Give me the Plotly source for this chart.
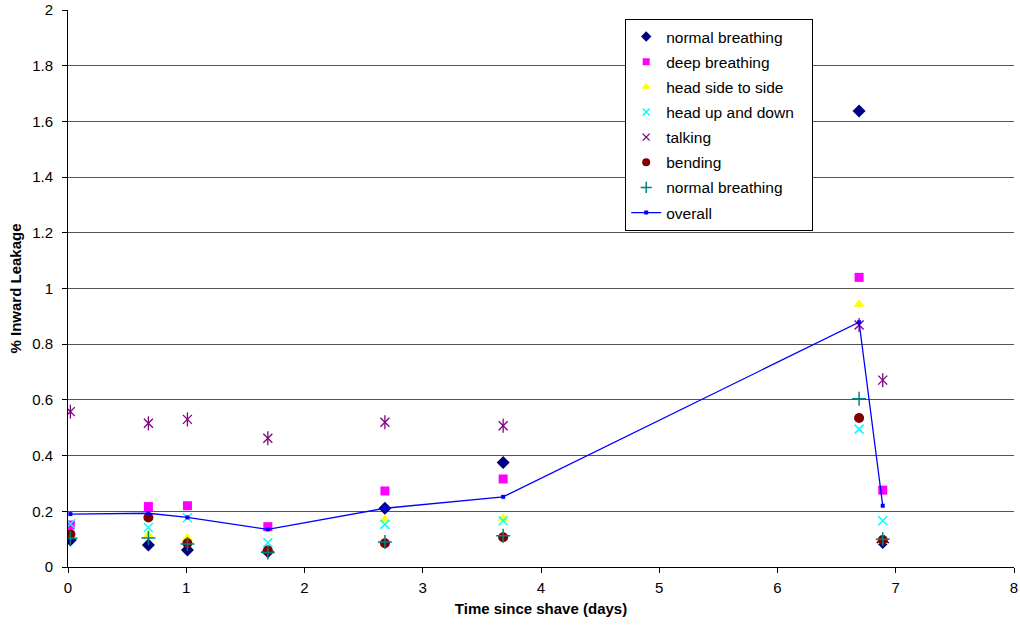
import plotly.graph_objects as go

days = [0.02, 0.68, 1.01, 1.69, 2.68, 3.68, 6.69, 6.89]
normal_breathing = [0.097, 0.079, 0.061, 0.055, 0.211, 0.375, 1.637, 0.088]
deep_breathing = [0.151, 0.217, 0.220, 0.145, 0.273, 0.316, 1.040, 0.276]
head_side = [0.110, 0.115, 0.104, 0.065, 0.171, 0.175, 0.943, 0.092]
head_updown = [0.155, 0.142, 0.177, 0.087, 0.153, 0.166, 0.495, 0.166]
talking = [0.558, 0.516, 0.530, 0.462, 0.520, 0.507, 0.869, 0.671]
bending = [0.118, 0.178, 0.085, 0.059, 0.085, 0.107, 0.535, 0.097]
normal_breathing2 = [0.103, 0.104, 0.083, 0.052, 0.090, 0.112, 0.604, 0.100]
overall = [0.190, 0.193, 0.178, 0.135, 0.211, 0.252, 0.879, 0.220]

fig = go.Figure()

def scat(y, name, symbol, color, size, lw=0, lsize=7, extra=None):
    fig.add_trace(go.Scatter(
        x=days, y=y, name=name, mode="markers",
        marker=dict(symbol=symbol, color=color, size=size,
                    line=dict(color=color, width=lw)),
        showlegend=False, legendgroup=name))
    if extra:
        fig.add_trace(go.Scatter(
            x=days, y=y, name=name, mode="markers",
            marker=dict(symbol=extra, color=color, size=size + 1,
                        line=dict(color=color, width=lw)),
            showlegend=False, legendgroup=name))
    fig.add_trace(go.Scatter(
        x=[None], y=[None], name=name, mode="markers",
        marker=dict(symbol=symbol, color=color, size=lsize,
                    line=dict(color=color, width=lw)),
        showlegend=True, legendgroup=name))

scat(normal_breathing, "normal breathing", "diamond", "#000080", 10, lsize=8)
scat(deep_breathing, "deep breathing", "square", "#FF00FF", 9, lsize=7)
scat(head_side, "head side to side", "triangle-up", "#FFFF00", 10, lsize=8)
scat(head_updown, "head up and down\u00a0\u00a0\u00a0", "x-thin-open", "#00FFFF", 9, lw=1.5, lsize=7)
scat(talking, "talking", "x-thin-open", "#800080", 9, lw=1.3, lsize=7, extra="line-ns-open")
scat(bending, "bending", "circle", "#800000", 10, lsize=8)
scat(normal_breathing2, "normal breathing ", "cross-thin-open", "#008080", 10, lw=1.5, lsize=8)

fig.add_trace(go.Scatter(
    x=days, y=overall, name="overall", mode="lines+markers",
    line=dict(color="#0000FF", width=1.3),
    marker=dict(symbol="square", size=4, color="#0000FF"),
    legendgroup="overall"))

font = "Liberation Sans, Arial, sans-serif"
fig.update_layout(
    width=1020, height=626,
    margin=dict(l=68, r=6, t=10, b=59),
    paper_bgcolor="white", plot_bgcolor="white",
    font=dict(family=font, size=15, color="black"),
    showlegend=True,
    legend=dict(x=0.589, y=0.984, xanchor="left", yanchor="top",
                bordercolor="black", borderwidth=1, bgcolor="white",
                font=dict(size=15.5), tracegroupgap=2,
                itemsizing="trace"),
    xaxis=dict(range=[0, 8], dtick=1, tick0=0, showgrid=False,
               showline=True, linecolor="black", linewidth=1,
               ticks="outside", ticklen=5, tickcolor="black",
               zeroline=False, automargin=False,
               ticklabeloverflow="allow", ticklabelstandoff=2,
               title=dict(text="<b>Time since shave (days)</b>",
                          font=dict(size=15), standoff=8)),
    yaxis=dict(range=[0, 2], dtick=0.2, tick0=0, showgrid=True,
               gridcolor="#555555", gridwidth=1.2,
               showline=True, linecolor="black", linewidth=1,
               ticks="outside", ticklen=5, tickcolor="black",
               zeroline=False, automargin=False,
               ticklabeloverflow="allow", ticklabelstandoff=6,
               title=dict(text="<b>% Inward Leakage</b>",
                          font=dict(size=15), standoff=6)),
)

fig.write_html(
    "out.html",
    config={"displayModeBar": False},
    post_script="document.body.style.margin='0';document.body.style.overflow='hidden';",
)
